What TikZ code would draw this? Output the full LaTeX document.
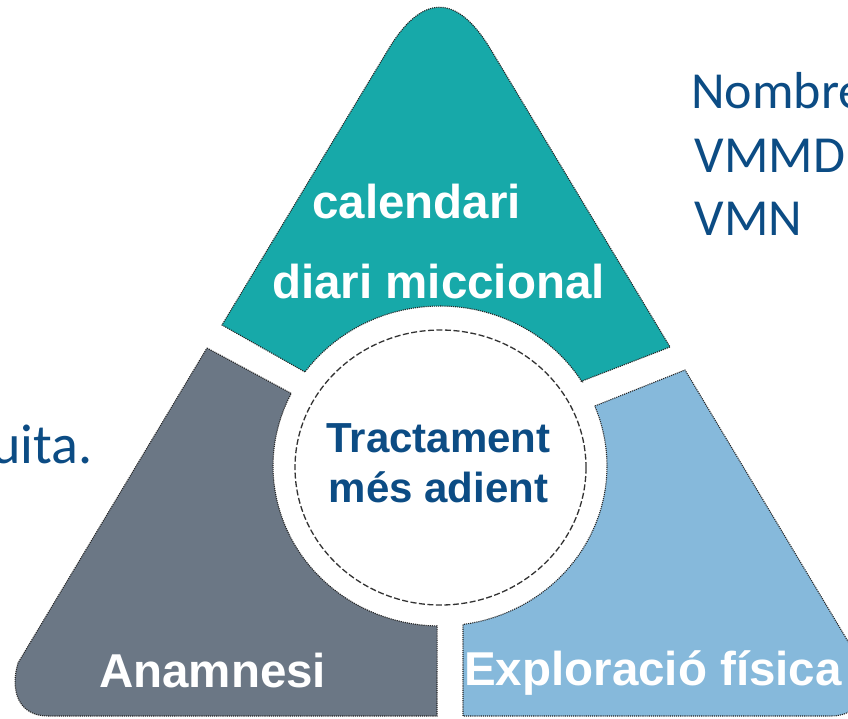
\documentclass[tikz,border=0pt]{standalone}
\usepackage{fontspec}
\setmainfont{Liberation Sans}
\newfontfamily\carlitofont{Carlito}
\definecolor{tealA}{HTML}{17A9A9}
\definecolor{grayA}{HTML}{6B7785}
\definecolor{blueA}{HTML}{86B9DB}
\definecolor{navyT}{HTML}{0C4C84}
\begin{document}
\begin{tikzpicture}[x=1pt,y=-1pt,
  seg/.style={draw=black!85, densely dotted, line width=1.1pt},
  lab/.style={text=white, font=\bfseries\fontsize{47.5}{57}\selectfont, inner sep=0pt},
  ctr/.style={text=navyT, font=\bfseries\fontsize{42}{50}\selectfont, inner sep=0pt},
  side/.style={text=navyT, font=\carlitofont\fontsize{52}{62}\selectfont, inner sep=0pt},
  ring/.style={draw=black!80, dash pattern=on 6pt off 2.5pt, line width=1.3pt, fill=white}]
\useasboundingbox (0,0) rectangle (848,718);
\clip (0,0) rectangle (848,718);
\fill[white] (0,0) rectangle (848,718);

% top segment (teal)
\path[fill=tealA, seg] (304.9,371.9) -- (222,325) -- (388,50)
  .. controls (422,-7) and (457,-7) .. (491,50) -- (670,347) -- (581.6,381.2)
  -- plot[domain=-32:-144, samples=40] ({440+167*cos(\x)},{466+160*sin(\x)}) -- cycle;

% left segment (gray)
\path[fill=grayA, seg] (207,348) -- (291.2,393.4)
  -- plot[domain=207:91, samples=40] ({440+167*cos(\x)},{466+160*sin(\x)})
  -- (437,716) -- (48,716) .. controls (18,716) and (10,690) .. (18,663) -- cycle;

% right segment (blue)
\path[fill=blueA, seg] (594.8,406) -- (685,370) -- (861,663)
  .. controls (869,690) and (861,716) .. (831,716) -- (463,716) -- (463,624.5)
  -- plot[domain=82:-22, samples=40] ({440+167*cos(\x)},{466+160*sin(\x)}) -- cycle;

% centre circle
\draw[ring] (440.5,467.5) ellipse [x radius=145.5, y radius=137.5];

% labels
\node[lab, anchor=base] (cal) at (416.5,218) {calendari};
\node[lab, anchor=base] (diari) at (438.5,298) {diari miccional};
\node[lab, anchor=base west] (anam) at (99,687) {Anamnesi};
\node[lab, anchor=base west] (expl) at (464,685) {Exploració física};
\node[ctr, anchor=base] (tr1) at (438.5,452) {Tractament};
\node[ctr, anchor=base] (tr2) at (438.5,502) {més adient};

% side texts
\node[side, anchor=base west] (nom) at (691,108) {Nombre};
\node[side, anchor=base west] (vmmd) at (694.5,172) {VMMD};
\node[side, anchor=base west] (vmn) at (694.5,235) {VMN};
\node[side, anchor=base east, font=\carlitofont\fontsize{56}{66}\selectfont] (uita) at (93,463) {uita.};
\end{tikzpicture}
\end{document}
